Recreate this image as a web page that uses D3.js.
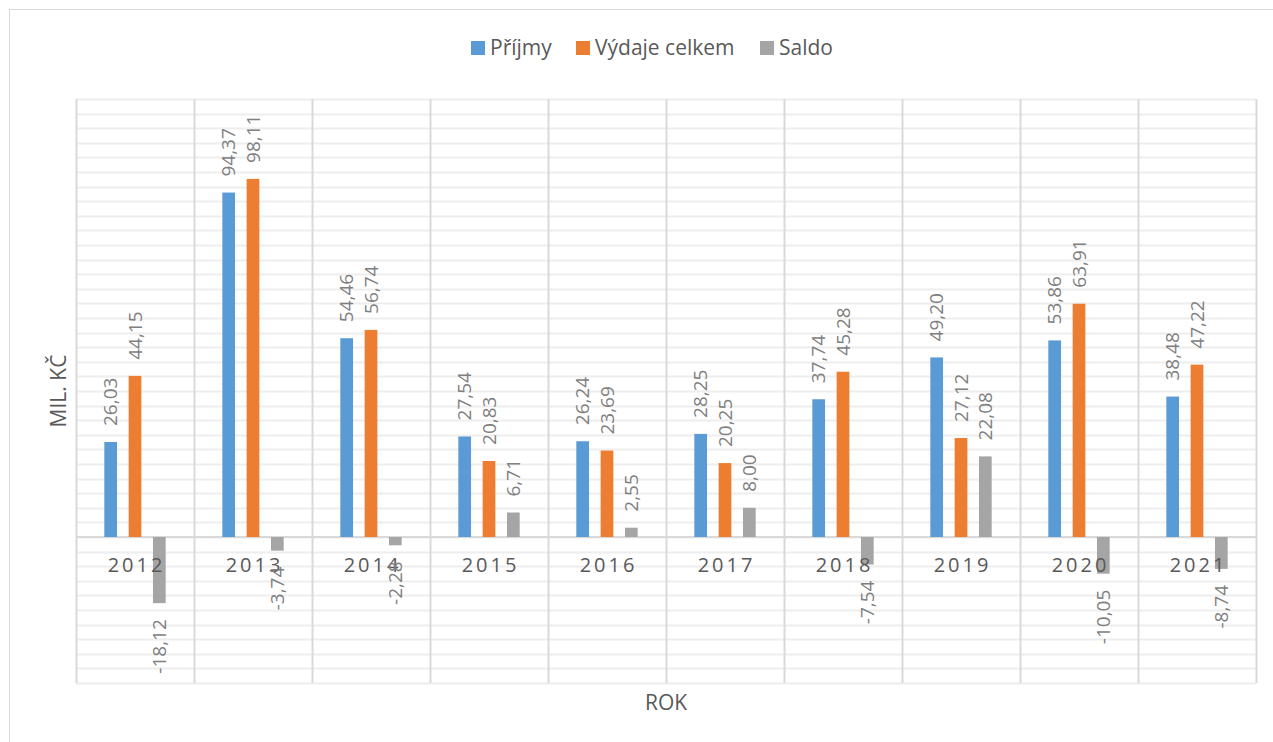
<!DOCTYPE html>
<html>
<head>
<meta charset="utf-8">
<script src="https://cdn.jsdelivr.net/npm/d3@7"></script>
<style>
  body { margin: 0; background: #fff; }
  svg { display: block; font-family: "Open Sans", sans-serif; }
</style>
</head>
<body>
<svg id="chart"></svg>
<script>
// data
const years = ["2012", "2013", "2014", "2015", "2016", "2017", "2018", "2019", "2020", "2021"]
const seriesNames = ["Příjmy", "Výdaje celkem", "Saldo"]
const prijmy = [26.03, 94.37, 54.46, 27.54, 26.24, 28.25, 37.74, 49.20, 53.86, 38.48]
const vydaje = [44.15, 98.11, 56.74, 20.83, 23.69, 20.25, 45.28, 27.12, 63.91, 47.22]
const saldo = [-18.12, -3.74, -2.28, 6.71, 2.55, 8.00, -7.54, 22.08, -10.05, -8.74]
const colors = ["#5b9bd5", "#ed7d31", "#a5a5a5"]

const totalWidth = 1273, totalHeight = 742
const margin = { top: 99, right: 17, bottom: 59, left: 76 }
const chartWidth = totalWidth - margin.left - margin.right
const chartHeight = totalHeight - margin.top - margin.bottom

const rows = []
years.forEach((y, i) => {
  [prijmy, vydaje, saldo].forEach((arr, s) => {
    rows.push({ year: y, series: seriesNames[s], value: arr[i], color: colors[s] })
  })
})

const svg = d3.select("#chart")
  .attr("width", totalWidth)
  .attr("height", totalHeight)

// outer chart frame
svg.append("rect")
  .attr("x", 9.5).attr("y", 9.5)
  .attr("width", 1400).attr("height", 900)
  .attr("fill", "none")
  .attr("stroke", "#d9d9d9")

const chart = svg.append("g")
  .attr("transform", "translate(" + margin.left + "," + margin.top + ")")

const x = d3.scaleBand()
  .domain(years)
  .range([0, chartWidth])
  .paddingInner(0.48)
  .paddingOuter(0.24)

const xStep = x.step()

const xInner = d3.scaleBand()
  .domain(seriesNames)
  .range([0, x.bandwidth()])
  .paddingInner(0.477)

const y = d3.scaleLinear()
  .domain([-40, 120])
  .range([chartHeight, 0])

// horizontal gridlines
chart.append("g")
  .selectAll("line")
  .data(d3.range(-40, 121, 4))
  .enter()
  .append("line")
  .attr("x1", 0).attr("x2", chartWidth)
  .attr("y1", d => Math.round(y(d)) + 0.5)
  .attr("y2", d => Math.round(y(d)) + 0.5)
  .attr("stroke", "#eeeeee")
  .attr("stroke-width", 2)

// vertical separators between years
chart.append("g")
  .selectAll("line")
  .data(d3.range(0, years.length + 1))
  .enter()
  .append("line")
  .attr("x1", d => Math.round(d * xStep) + 0.5)
  .attr("x2", d => Math.round(d * xStep) + 0.5)
  .attr("y1", 0).attr("y2", chartHeight)
  .attr("stroke", "#d9d9d9")
  .attr("stroke-width", 2)

// zero line
chart.append("line")
  .attr("x1", 0).attr("x2", chartWidth)
  .attr("y1", y(0)).attr("y2", y(0))
  .attr("stroke", "#d9d9d9")
  .attr("stroke-width", 2)

// bars
chart.append("g")
  .selectAll("rect")
  .data(rows)
  .enter()
  .append("rect")
  .attr("x", d => x(d.year) + xInner(d.series))
  .attr("width", xInner.bandwidth())
  .attr("y", d => y(Math.max(0, d.value)))
  .attr("height", d => Math.abs(y(d.value) - y(0)))
  .attr("fill", d => d.color)

// category labels (drawn over the bars)
chart.append("g")
  .selectAll("text")
  .data(years)
  .enter()
  .append("text")
  .attr("x", d => x(d) + x.bandwidth() / 2 + 1.5)
  .attr("y", y(0) + 35)
  .attr("text-anchor", "middle")
  .style("font-size", "20px")
  .style("letter-spacing", "3px")
  .attr("fill", "#595959")
  .text(d => d)

// value labels
const fmt = v => d3.format(".2f")(v).replace(".", ",").replace("\u2212", "-")
chart.append("g")
  .selectAll("text")
  .data(rows)
  .enter()
  .append("text")
  .attr("transform", d => {
    const cx = x(d.year) + xInner(d.series) + xInner.bandwidth() / 2
    const cy = d.value >= 0 ? y(d.value) - 16 : y(d.value) + 16
    return "translate(" + cx + "," + cy + ") rotate(-90)"
  })
  .attr("dy", "0.35em")
  .attr("text-anchor", d => d.value >= 0 ? "start" : "end")
  .style("font-size", "19px")
  .attr("fill", "#7f7f7f")
  .text(d => fmt(d.value))

// axis titles
svg.append("text")
  .attr("transform", "translate(66," + (margin.top + chartHeight / 2) + ") rotate(-90)")
  .attr("text-anchor", "middle")
  .style("font-size", "21px")
  .attr("fill", "#595959")
  .text("MIL. KČ")

svg.append("text")
  .attr("x", margin.left + chartWidth / 2)
  .attr("y", 710)
  .attr("text-anchor", "middle")
  .style("font-size", "21px")
  .attr("fill", "#595959")
  .text("ROK")

// legend
const legendX = [471, 576, 760]
const legend = svg.append("g")
  .selectAll("g")
  .data(seriesNames)
  .enter()
  .append("g")
  .attr("transform", (d, i) => "translate(" + legendX[i] + ",41)")
legend.append("rect")
  .attr("width", 14).attr("height", 14)
  .attr("fill", (d, i) => colors[i])
legend.append("text")
  .attr("x", 19).attr("y", 14)
  .style("font-size", "21px")
  .attr("fill", "#595959")
  .text(d => d)
</script>
</body>
</html>
